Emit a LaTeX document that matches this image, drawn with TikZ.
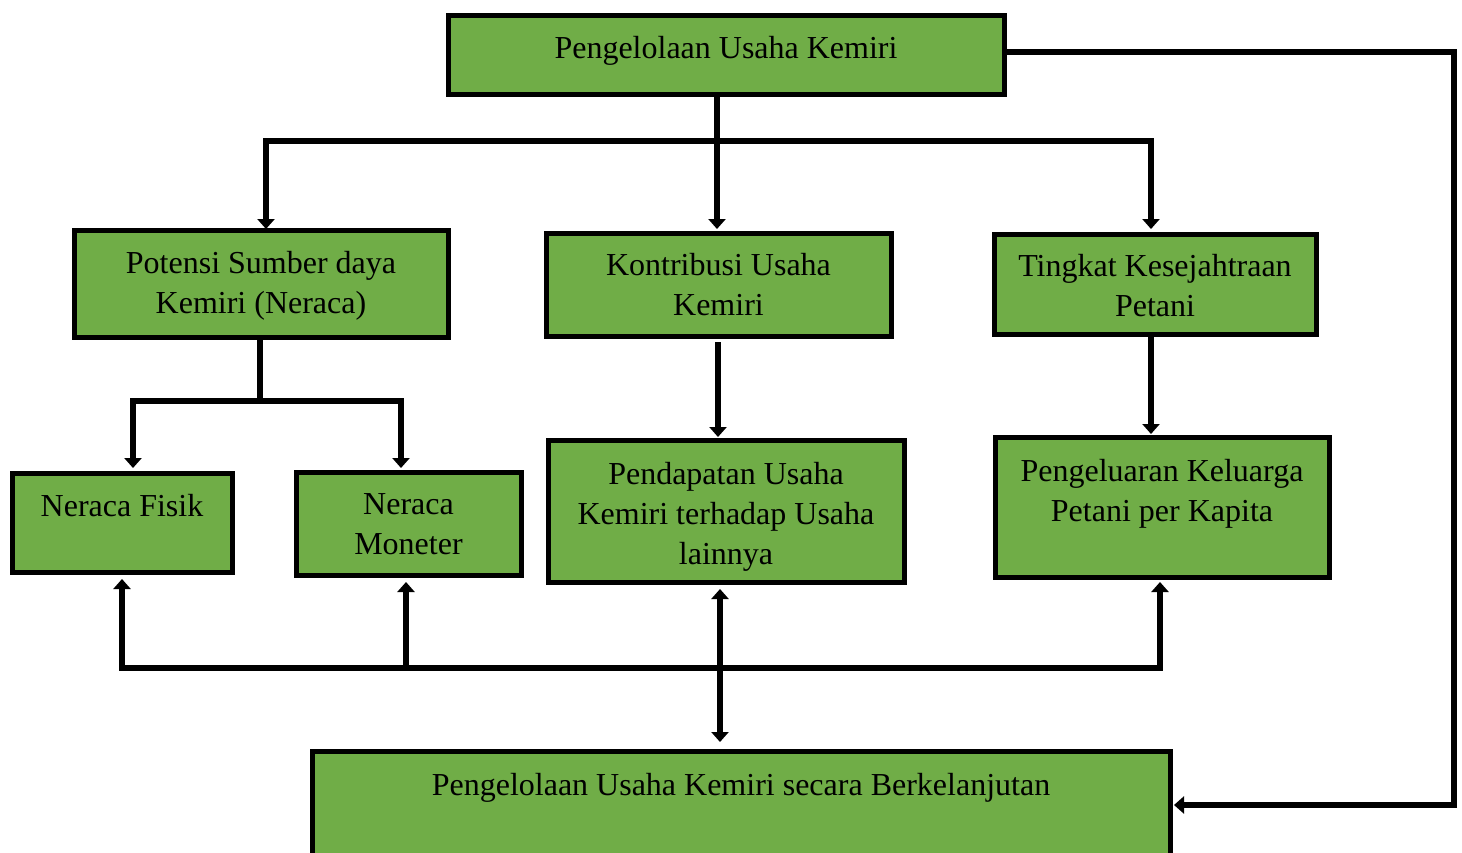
\documentclass[tikz,border=0pt]{standalone}
\usepackage{fontspec}
\setmainfont{Liberation Serif}
\usetikzlibrary{arrows.meta}
\definecolor{boxgreen}{HTML}{70AD47}
\begin{document}
\begin{tikzpicture}[x=1pt,y=-1pt,
  box/.style={draw=black,line width=5pt,fill=boxgreen,inner sep=0pt},
  lbl/.style={align=center,font=\fontsize{32}{40}\selectfont,inner sep=0pt,anchor=north},
  conn/.style={line width=6pt,line cap=butt},
  arr/.style={conn,-{Triangle[width=17pt,length=10pt]}},
  darr/.style={conn,{Triangle[width=17pt,length=10pt]}-{Triangle[width=17pt,length=10pt]}}]
\useasboundingbox (0,0) rectangle (1462,852);
\fill[white] (0,0) rectangle (1462,852);
% boxes
\node[box,minimum width=556pt,minimum height=79pt] (top) at (726,54.5) {};
\node[box,minimum width=374pt,minimum height=107pt] (pot) at (261,283.5) {};
\node[box,minimum width=345pt,minimum height=103pt] (kon) at (718.5,284.5) {};
\node[box,minimum width=322pt,minimum height=100pt] (tin) at (1155,284) {};
\node[box,minimum width=220pt,minimum height=99pt] (fis) at (122,522.5) {};
\node[box,minimum width=225pt,minimum height=103pt] (mon) at (408.5,523.5) {};
\node[box,minimum width=356pt,minimum height=142pt] (pen) at (726,511) {};
\node[box,minimum width=334pt,minimum height=140pt] (pel) at (1162,507) {};
\node[box,minimum width=858pt,minimum height=104pt] (bot) at (741,803) {};
% labels
\node[lbl] (topt) at (726,36) {Pengelolaan Usaha Kemiri};
\node[lbl] (pott) at (261,251) {Potensi Sumber daya\\Kemiri (Neraca)};
\node[lbl] (kont) at (718.5,253) {Kontribusi Usaha\\Kemiri};
\node[lbl] (tint) at (1155,254) {Tingkat Kesejahtraan\\Petani};
\node[lbl] (fist) at (122,494) {Neraca Fisik};
\node[lbl] (mont) at (408.5,493) {Neraca\\Moneter};
\node[lbl] (pent) at (726,462) {Pendapatan Usaha\\Kemiri terhadap Usaha\\lainnya};
\node[lbl] (pelt) at (1162,459) {Pengeluaran Keluarga\\Petani per Kapita};
\node[lbl] (bott) at (741,773) {Pengelolaan Usaha Kemiri secara Berkelanjutan};
% coordinates
\coordinate (t1) at (717,141);
\coordinate (tl) at (266,141);
\coordinate (tr) at (1151,141);
\coordinate (p1) at (260,401);
\coordinate (pl) at (133,401);
\coordinate (pr) at (401,401);
\coordinate (r1) at (1451,52);
\coordinate (r2) at (1451,805);
\coordinate (bl) at (122,668);
\coordinate (bm) at (406,668);
\coordinate (br) at (1160,668);
% connectors from top
\draw[arr] (top.south -| t1) -- (717,229);
\draw[conn] ([xshift=-3pt]tl) -- ([xshift=3pt]tr);
\draw[arr] ([yshift=-3pt]tl) -- (266,229);
\draw[arr] ([yshift=-3pt]tr) -- (1151,229);
\draw[conn] (top.east |- r1) -- ([xshift=3pt]r1) -- ([xshift=3pt]r2);
\draw[arr] ([xshift=6pt]r2) -- (1174,805);
% potensi
\draw[conn] (pot.south -| p1) -- (p1);
\draw[conn] ([xshift=-3pt]pl) -- ([xshift=3pt]pr);
\draw[arr] ([yshift=-3pt]pl) -- (133,468);
\draw[arr] ([yshift=-3pt]pr) -- (401,468);
% kontribusi / tingkat
\draw[arr] (718,342) -- (718,437);
\draw[arr] (tin.south -| 1151,0) -- (1151,434);
% bottom
\draw[conn] ([xshift=-3pt]bl) -- ([xshift=3pt]br);
\draw[arr] ([yshift=3pt]bl) -- (122,579);
\draw[arr] ([yshift=3pt]bm) -- (406,582);
\draw[arr] ([yshift=3pt]br) -- (1160,582);
\draw[darr] (720,589) -- (720,742);
\end{tikzpicture}
\end{document}
